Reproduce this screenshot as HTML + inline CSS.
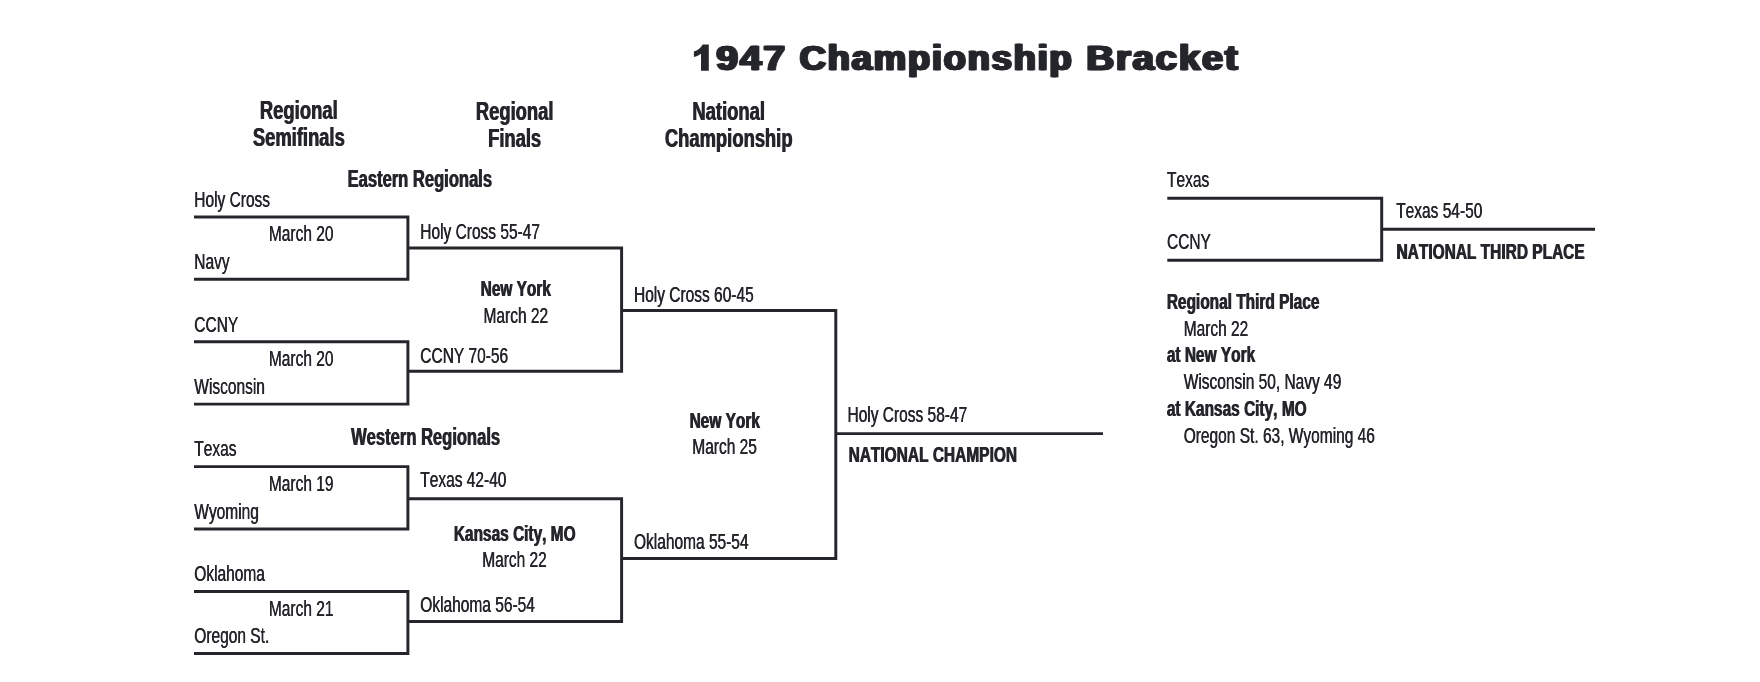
<!DOCTYPE html>
<html><head><meta charset="utf-8"><title>1947 Championship Bracket</title>
<style>
html,body{margin:0;padding:0;background:#fff;}
body{width:1760px;height:682px;overflow:hidden;}
svg{display:block;will-change:transform;}
text{font-family:"Liberation Sans",sans-serif;fill:#25262b;font-kerning:none;}
.l{fill:none;stroke:#25262b;stroke-width:2.95;stroke-linejoin:miter;stroke-linecap:butt;}
</style></head>
<body>
<svg width="1760" height="682" viewBox="0 0 1760 682">
<rect width="1760" height="682" fill="#ffffff"/>
<polyline class="l" points="194.0,217.0 407.9,217.0 407.9,279.3 194.0,279.3"/>
<polyline class="l" points="194.0,341.8 407.9,341.8 407.9,404.1 194.0,404.1"/>
<polyline class="l" points="194.0,466.6 407.9,466.6 407.9,529.0 194.0,529.0"/>
<polyline class="l" points="194.0,591.5 407.9,591.5 407.9,653.5 194.0,653.5"/>
<polyline class="l" points="407.9,248.0 621.6,248.0 621.6,371.2 407.9,371.2"/>
<polyline class="l" points="407.9,498.7 621.6,498.7 621.6,621.4 407.9,621.4"/>
<polyline class="l" points="621.6,310.4 835.8,310.4 835.8,558.5 621.6,558.5"/>
<polyline class="l" points="835.8,433.6 1103.0,433.6"/>
<polyline class="l" points="1167.3,198.2 1381.7,198.2 1381.7,260.2 1167.3,260.2"/>
<polyline class="l" points="1381.7,229.3 1595.0,229.3"/>
<path fill="#25262b" d="M708.8,44.6 L708.8,70.7 L701.0,70.7 L701.0,53.7 Q697.5,56.3 693.9,57.1 L693.9,51.6 Q699.5,50 702.7,44.6 Z"/>
<text transform="translate(715.11,70.40) scale(1.1123,1)" font-size="35.20" font-weight="bold" letter-spacing="1.60" stroke="#25262b" stroke-width="0.70" stroke-linejoin="miter">947</text>
<text transform="translate(716.26,70.40) scale(1.1123,1)" font-size="35.20" font-weight="bold" letter-spacing="1.60" stroke="#25262b" stroke-width="0.70" stroke-linejoin="miter">947</text>
<text transform="translate(717.41,70.40) scale(1.1123,1)" font-size="35.20" font-weight="bold" letter-spacing="1.60" stroke="#25262b" stroke-width="0.70" stroke-linejoin="miter">947</text>
<text transform="translate(798.41,70.40) scale(1.0393,1)" font-size="35.20" font-weight="bold" letter-spacing="1.60" stroke="#25262b" stroke-width="0.70" stroke-linejoin="miter">Championship</text>
<text transform="translate(799.56,70.40) scale(1.0393,1)" font-size="35.20" font-weight="bold" letter-spacing="1.60" stroke="#25262b" stroke-width="0.70" stroke-linejoin="miter">Championship</text>
<text transform="translate(800.71,70.40) scale(1.0393,1)" font-size="35.20" font-weight="bold" letter-spacing="1.60" stroke="#25262b" stroke-width="0.70" stroke-linejoin="miter">Championship</text>
<text transform="translate(1085.34,70.40) scale(1.0902,1)" font-size="35.20" font-weight="bold" letter-spacing="1.60" stroke="#25262b" stroke-width="0.70" stroke-linejoin="miter">Bracket</text>
<text transform="translate(1086.49,70.40) scale(1.0902,1)" font-size="35.20" font-weight="bold" letter-spacing="1.60" stroke="#25262b" stroke-width="0.70" stroke-linejoin="miter">Bracket</text>
<text transform="translate(1087.64,70.40) scale(1.0902,1)" font-size="35.20" font-weight="bold" letter-spacing="1.60" stroke="#25262b" stroke-width="0.70" stroke-linejoin="miter">Bracket</text>
<text transform="translate(298.43,118.9) scale(0.6920,1)" text-anchor="middle" font-size="26.60" font-weight="bold">Regional</text>
<text transform="translate(299.18,118.9) scale(0.6920,1)" text-anchor="middle" font-size="26.60" font-weight="bold">Regional</text>
<text transform="translate(298.43,145.8) scale(0.6920,1)" text-anchor="middle" font-size="26.60" font-weight="bold">Semifinals</text>
<text transform="translate(299.18,145.8) scale(0.6920,1)" text-anchor="middle" font-size="26.60" font-weight="bold">Semifinals</text>
<text transform="translate(514.23,120.0) scale(0.6920,1)" text-anchor="middle" font-size="26.60" font-weight="bold">Regional</text>
<text transform="translate(514.98,120.0) scale(0.6920,1)" text-anchor="middle" font-size="26.60" font-weight="bold">Regional</text>
<text transform="translate(514.23,146.9) scale(0.6920,1)" text-anchor="middle" font-size="26.60" font-weight="bold">Finals</text>
<text transform="translate(514.98,146.9) scale(0.6920,1)" text-anchor="middle" font-size="26.60" font-weight="bold">Finals</text>
<text transform="translate(728.33,120.0) scale(0.6920,1)" text-anchor="middle" font-size="26.60" font-weight="bold">National</text>
<text transform="translate(729.08,120.0) scale(0.6920,1)" text-anchor="middle" font-size="26.60" font-weight="bold">National</text>
<text transform="translate(728.33,146.9) scale(0.6920,1)" text-anchor="middle" font-size="26.60" font-weight="bold">Championship</text>
<text transform="translate(729.08,146.9) scale(0.6920,1)" text-anchor="middle" font-size="26.60" font-weight="bold">Championship</text>
<text transform="translate(419.43,187.0) scale(0.7020,1)" text-anchor="middle" font-size="23.60" font-weight="bold">Eastern Regionals</text>
<text transform="translate(420.18,187.0) scale(0.7020,1)" text-anchor="middle" font-size="23.60" font-weight="bold">Eastern Regionals</text>
<text transform="translate(425.23,444.6) scale(0.7020,1)" text-anchor="middle" font-size="23.60" font-weight="bold">Western Regionals</text>
<text transform="translate(425.98,444.6) scale(0.7020,1)" text-anchor="middle" font-size="23.60" font-weight="bold">Western Regionals</text>
<text transform="translate(194.10,206.9) scale(0.7050,1)" text-anchor="start" font-size="22.00">Holy Cross</text>
<text transform="translate(194.50,206.9) scale(0.7050,1)" text-anchor="start" font-size="22.00">Holy Cross</text>
<text transform="translate(194.10,269.0) scale(0.7050,1)" text-anchor="start" font-size="22.00">Navy</text>
<text transform="translate(194.50,269.0) scale(0.7050,1)" text-anchor="start" font-size="22.00">Navy</text>
<text transform="translate(194.10,331.9) scale(0.7050,1)" text-anchor="start" font-size="22.00">CCNY</text>
<text transform="translate(194.50,331.9) scale(0.7050,1)" text-anchor="start" font-size="22.00">CCNY</text>
<text transform="translate(194.10,393.5) scale(0.7050,1)" text-anchor="start" font-size="22.00">Wisconsin</text>
<text transform="translate(194.50,393.5) scale(0.7050,1)" text-anchor="start" font-size="22.00">Wisconsin</text>
<text transform="translate(194.10,455.8) scale(0.7050,1)" text-anchor="start" font-size="22.00">Texas</text>
<text transform="translate(194.50,455.8) scale(0.7050,1)" text-anchor="start" font-size="22.00">Texas</text>
<text transform="translate(194.10,518.5) scale(0.7050,1)" text-anchor="start" font-size="22.00">Wyoming</text>
<text transform="translate(194.50,518.5) scale(0.7050,1)" text-anchor="start" font-size="22.00">Wyoming</text>
<text transform="translate(194.10,580.5) scale(0.7050,1)" text-anchor="start" font-size="22.00">Oklahoma</text>
<text transform="translate(194.50,580.5) scale(0.7050,1)" text-anchor="start" font-size="22.00">Oklahoma</text>
<text transform="translate(194.10,642.5) scale(0.7050,1)" text-anchor="start" font-size="22.00">Oregon St.</text>
<text transform="translate(194.50,642.5) scale(0.7050,1)" text-anchor="start" font-size="22.00">Oregon St.</text>
<text transform="translate(301.00,240.9) scale(0.7050,1)" text-anchor="middle" font-size="22.00">March 20</text>
<text transform="translate(301.40,240.9) scale(0.7050,1)" text-anchor="middle" font-size="22.00">March 20</text>
<text transform="translate(301.00,365.5) scale(0.7050,1)" text-anchor="middle" font-size="22.00">March 20</text>
<text transform="translate(301.40,365.5) scale(0.7050,1)" text-anchor="middle" font-size="22.00">March 20</text>
<text transform="translate(301.00,490.6) scale(0.7050,1)" text-anchor="middle" font-size="22.00">March 19</text>
<text transform="translate(301.40,490.6) scale(0.7050,1)" text-anchor="middle" font-size="22.00">March 19</text>
<text transform="translate(301.00,615.5) scale(0.7050,1)" text-anchor="middle" font-size="22.00">March 21</text>
<text transform="translate(301.40,615.5) scale(0.7050,1)" text-anchor="middle" font-size="22.00">March 21</text>
<text transform="translate(420.10,238.8) scale(0.7050,1)" text-anchor="start" font-size="22.00">Holy Cross 55-47</text>
<text transform="translate(420.50,238.8) scale(0.7050,1)" text-anchor="start" font-size="22.00">Holy Cross 55-47</text>
<text transform="translate(420.10,362.5) scale(0.7050,1)" text-anchor="start" font-size="22.00">CCNY 70-56</text>
<text transform="translate(420.50,362.5) scale(0.7050,1)" text-anchor="start" font-size="22.00">CCNY 70-56</text>
<text transform="translate(420.10,487.0) scale(0.7050,1)" text-anchor="start" font-size="22.00">Texas 42-40</text>
<text transform="translate(420.50,487.0) scale(0.7050,1)" text-anchor="start" font-size="22.00">Texas 42-40</text>
<text transform="translate(420.10,612.0) scale(0.7050,1)" text-anchor="start" font-size="22.00">Oklahoma 56-54</text>
<text transform="translate(420.50,612.0) scale(0.7050,1)" text-anchor="start" font-size="22.00">Oklahoma 56-54</text>
<text transform="translate(515.42,295.8) scale(0.7020,1)" text-anchor="middle" font-size="22.00" font-weight="bold">New York</text>
<text transform="translate(516.17,295.8) scale(0.7020,1)" text-anchor="middle" font-size="22.00" font-weight="bold">New York</text>
<text transform="translate(515.60,322.5) scale(0.7050,1)" text-anchor="middle" font-size="22.00">March 22</text>
<text transform="translate(516.00,322.5) scale(0.7050,1)" text-anchor="middle" font-size="22.00">March 22</text>
<text transform="translate(514.33,540.5) scale(0.7020,1)" text-anchor="middle" font-size="22.00" font-weight="bold">Kansas City, MO</text>
<text transform="translate(515.08,540.5) scale(0.7020,1)" text-anchor="middle" font-size="22.00" font-weight="bold">Kansas City, MO</text>
<text transform="translate(514.30,567.1) scale(0.7050,1)" text-anchor="middle" font-size="22.00">March 22</text>
<text transform="translate(514.70,567.1) scale(0.7050,1)" text-anchor="middle" font-size="22.00">March 22</text>
<text transform="translate(633.80,301.7) scale(0.7050,1)" text-anchor="start" font-size="22.00">Holy Cross 60-45</text>
<text transform="translate(634.20,301.7) scale(0.7050,1)" text-anchor="start" font-size="22.00">Holy Cross 60-45</text>
<text transform="translate(633.80,548.9) scale(0.7050,1)" text-anchor="start" font-size="22.00">Oklahoma 55-54</text>
<text transform="translate(634.20,548.9) scale(0.7050,1)" text-anchor="start" font-size="22.00">Oklahoma 55-54</text>
<text transform="translate(724.33,427.5) scale(0.7020,1)" text-anchor="middle" font-size="22.00" font-weight="bold">New York</text>
<text transform="translate(725.08,427.5) scale(0.7020,1)" text-anchor="middle" font-size="22.00" font-weight="bold">New York</text>
<text transform="translate(724.40,453.6) scale(0.7050,1)" text-anchor="middle" font-size="22.00">March 25</text>
<text transform="translate(724.80,453.6) scale(0.7050,1)" text-anchor="middle" font-size="22.00">March 25</text>
<text transform="translate(847.30,421.5) scale(0.7050,1)" text-anchor="start" font-size="22.00">Holy Cross 58-47</text>
<text transform="translate(847.70,421.5) scale(0.7050,1)" text-anchor="start" font-size="22.00">Holy Cross 58-47</text>
<text transform="translate(848.23,461.8) scale(0.6790,1)" text-anchor="start" font-size="22.80" font-weight="bold">NATIONAL CHAMPION</text>
<text transform="translate(848.98,461.8) scale(0.6790,1)" text-anchor="start" font-size="22.80" font-weight="bold">NATIONAL CHAMPION</text>
<text transform="translate(1166.80,186.9) scale(0.7050,1)" text-anchor="start" font-size="22.00">Texas</text>
<text transform="translate(1167.20,186.9) scale(0.7050,1)" text-anchor="start" font-size="22.00">Texas</text>
<text transform="translate(1166.80,248.9) scale(0.7050,1)" text-anchor="start" font-size="22.00">CCNY</text>
<text transform="translate(1167.20,248.9) scale(0.7050,1)" text-anchor="start" font-size="22.00">CCNY</text>
<text transform="translate(1396.00,218.0) scale(0.7050,1)" text-anchor="start" font-size="22.00">Texas 54-50</text>
<text transform="translate(1396.40,218.0) scale(0.7050,1)" text-anchor="start" font-size="22.00">Texas 54-50</text>
<text transform="translate(1396.12,258.8) scale(0.6790,1)" text-anchor="start" font-size="22.80" font-weight="bold">NATIONAL THIRD PLACE</text>
<text transform="translate(1396.88,258.8) scale(0.6790,1)" text-anchor="start" font-size="22.80" font-weight="bold">NATIONAL THIRD PLACE</text>
<text transform="translate(1166.42,308.8) scale(0.7020,1)" text-anchor="start" font-size="22.00" font-weight="bold">Regional Third Place</text>
<text transform="translate(1167.17,308.8) scale(0.7020,1)" text-anchor="start" font-size="22.00" font-weight="bold">Regional Third Place</text>
<text transform="translate(1183.50,335.7) scale(0.7050,1)" text-anchor="start" font-size="22.00">March 22</text>
<text transform="translate(1183.90,335.7) scale(0.7050,1)" text-anchor="start" font-size="22.00">March 22</text>
<text transform="translate(1166.42,362.3) scale(0.7020,1)" text-anchor="start" font-size="22.00" font-weight="bold">at New York</text>
<text transform="translate(1167.17,362.3) scale(0.7020,1)" text-anchor="start" font-size="22.00" font-weight="bold">at New York</text>
<text transform="translate(1183.50,388.8) scale(0.7050,1)" text-anchor="start" font-size="22.00">Wisconsin 50, Navy 49</text>
<text transform="translate(1183.90,388.8) scale(0.7050,1)" text-anchor="start" font-size="22.00">Wisconsin 50, Navy 49</text>
<text transform="translate(1166.42,415.9) scale(0.7020,1)" text-anchor="start" font-size="22.00" font-weight="bold">at Kansas City, MO</text>
<text transform="translate(1167.17,415.9) scale(0.7020,1)" text-anchor="start" font-size="22.00" font-weight="bold">at Kansas City, MO</text>
<text transform="translate(1183.50,442.6) scale(0.7050,1)" text-anchor="start" font-size="22.00">Oregon St. 63, Wyoming 46</text>
<text transform="translate(1183.90,442.6) scale(0.7050,1)" text-anchor="start" font-size="22.00">Oregon St. 63, Wyoming 46</text>
</svg>
</body></html>
